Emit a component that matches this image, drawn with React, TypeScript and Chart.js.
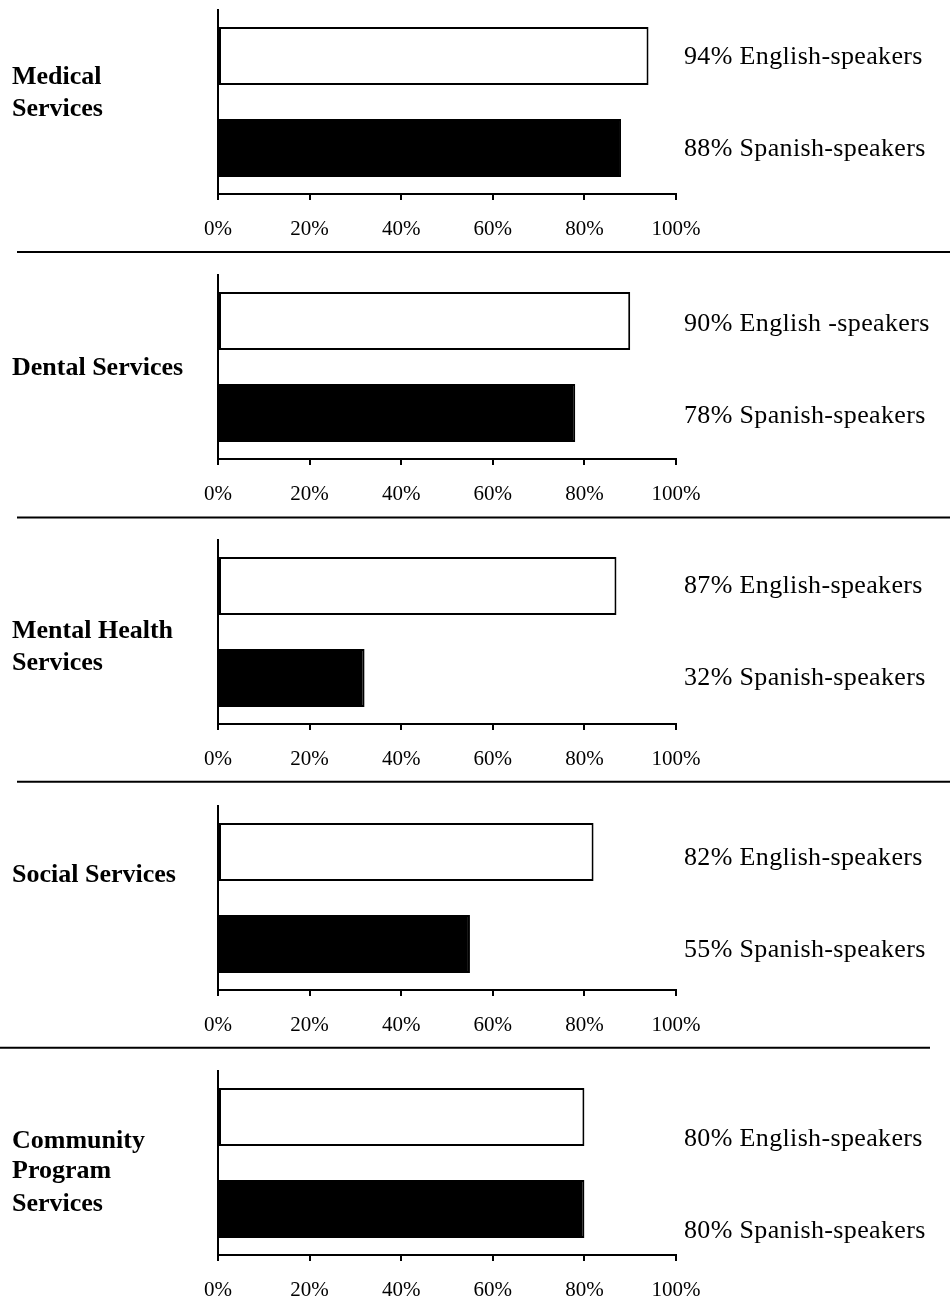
import React, { useEffect, useRef } from "react";
import { Chart, registerables } from "chart.js";

Chart.register(...registerables);

// ---- data ----
const serviceLabelLines: string[][] = [
  ["Medical", "Services"],
  ["Dental Services"],
  ["Mental Health", "Services"],
  ["Social Services"],
  ["Community", "Program", "Services"],
];
const englishPct = [94, 90, 87, 82, 80];
const spanishPct = [88, 78, 32, 55, 80];
const groupNames = ["English-speakers", "Spanish-speakers"];
const englishLabelText = [
  "English-speakers",
  "English -speakers",
  "English-speakers",
  "English-speakers",
  "English-speakers",
];
const spanishLabelText = [
  "Spanish-speakers",
  "Spanish-speakers",
  "Spanish-speakers",
  "Spanish-speakers",
  "Spanish-speakers",
];
const tickValues = [0, 20, 40, 60, 80, 100];

// ---- layout / style ----
const PANEL_TOPS = [0, 265, 530, 796, 1061];
const PANEL_H = [265, 265, 266, 265, 250];
const LEFT_LABEL_Y = [[77, 109], [103], [101.7, 133], [79.7], [80.7, 110.7, 143]];
const RIGHT_LABEL_SHIFT = [1, 3, 0, 6, 22];
const SEPARATORS: (number[] | null)[] = [
  [17, 950, 252],
  [17, 950, 252.5],
  [17, 950, 251.7],
  [0, 930, 251.7],
  null,
];
const SERIF = '"Liberation Serif", "Times New Roman", serif';

function Panel({ index }: { index: number }) {
  const ref = useRef<HTMLCanvasElement | null>(null);
  const H = PANEL_H[index];

  useEffect(() => {
    if (!ref.current) return;
    const textPlugin = {
      id: "panelText" + index,
      afterDraw(chart: any) {
        const ctx = chart.ctx;
        ctx.save();
        ctx.fillStyle = "#000";
        ctx.textBaseline = "middle";
        ctx.textAlign = "left";
        // left bold category label
        ctx.font = `bold 26px ${SERIF}`;
        serviceLabelLines[index].forEach((line, k) => {
          ctx.fillText(line, 12, LEFT_LABEL_Y[index][k]);
        });
        // right value labels
        ctx.font = `26px ${SERIF}`;
        try {
          (ctx as any).letterSpacing = "0.35px";
        } catch (e) {}
        const meta = chart.getDatasetMeta(0);
        const vals = [englishPct[index], spanishPct[index]];
        const names = [englishLabelText[index], spanishLabelText[index]];
        meta.data.forEach((el: any, k: number) => {
          ctx.fillText(`${vals[k]}% ${names[k]}`, 684, el.y + RIGHT_LABEL_SHIFT[index]);
        });
        try {
          (ctx as any).letterSpacing = "0px";
        } catch (e) {}
        // separator line
        const sep = SEPARATORS[index];
        if (sep) {
          ctx.strokeStyle = "#000";
          ctx.lineWidth = 2;
          ctx.beginPath();
          ctx.moveTo(sep[0], sep[2]);
          ctx.lineTo(sep[1], sep[2]);
          ctx.stroke();
        }
        ctx.restore();
      },
    };

    const chart = new Chart(ref.current, {
      type: "bar",
      data: {
        labels: groupNames,
        datasets: [
          {
            data: [englishPct[index], spanishPct[index]],
            backgroundColor: ["#ffffff", "#000000"],
            borderColor: "#000000",
            borderWidth: 2,
            borderSkipped: false,
            barPercentage: 0.63,
            categoryPercentage: 1,
          },
        ],
      },
      options: {
        animation: false,
        responsive: false,
        maintainAspectRatio: false,
        indexAxis: "y",
        layout: { padding: { left: 218, right: 274, top: 10, bottom: 0 } },
        plugins: {
          legend: { display: false },
          tooltip: { enabled: false },
        },
        scales: {
          x: {
            type: "linear",
            min: 0,
            max: 100,
            afterBuildTicks: (s: any) => {
              s.ticks = tickValues.map((v) => ({ value: v }));
            },
            ticks: {
              callback: (v: any) => v + "%",
              font: { family: SERIF, size: 21 },
              color: "#000",
              padding: 17,
              maxRotation: 0,
              autoSkip: false,
            },
            grid: {
              drawOnChartArea: false,
              drawTicks: true,
              tickLength: 6,
              color: "#000",
              lineWidth: 2,
            },
            border: { display: true, color: "#000", width: 2 },
            afterFit: (s: any) => {
              s.height = H - 194;
            },
          },
          y: {
            ticks: { display: false },
            grid: { display: false, drawTicks: false },
            border: { display: true, color: "#000", width: 2 },
            afterFit: (s: any) => {
              s.width = 0;
            },
          },
        },
      } as any,
      plugins: [textPlugin],
    });
    return () => chart.destroy();
  }, [index, H]);

  return (
    <canvas
      ref={ref}
      width={950}
      height={H}
      style={{
        position: "absolute",
        left: 0,
        top: PANEL_TOPS[index],
        width: 950,
        height: H,
        display: "block",
      }}
    />
  );
}

export default function App() {
  return (
    <div
      style={{
        position: "absolute",
        left: 0,
        top: 0,
        width: 950,
        height: 1311,
        background: "#ffffff",
        overflow: "hidden",
      }}
    >
      {serviceLabelLines.map((_, i) => (
        <Panel key={i} index={i} />
      ))}
    </div>
  );
}
